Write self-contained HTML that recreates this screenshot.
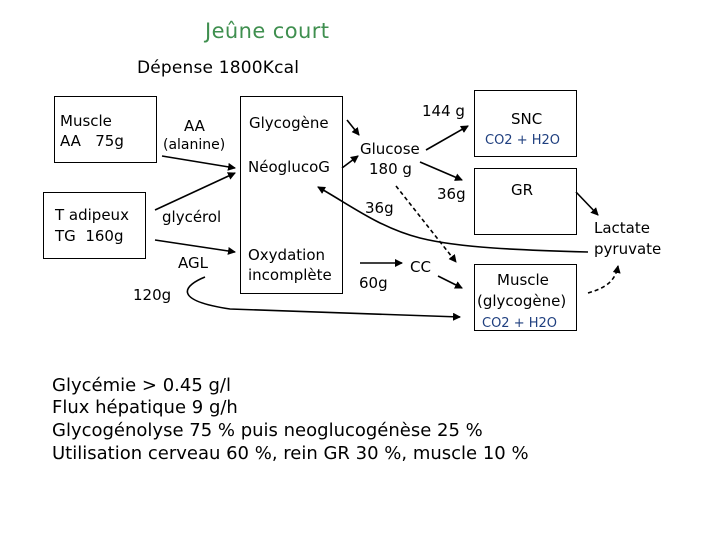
<!DOCTYPE html>
<html><head><meta charset="utf-8"><style>
html,body{margin:0;padding:0;background:#fff;width:720px;height:540px;overflow:hidden}
svg{display:block}
text{font-family:"DejaVu Sans","Liberation Sans",sans-serif;fill:#000}
</style></head><body>
<svg width="720" height="540" viewBox="0 0 720 540" xmlns="http://www.w3.org/2000/svg">
<defs>
<marker id="a" markerWidth="8" markerHeight="8" refX="7" refY="4" orient="auto" markerUnits="userSpaceOnUse"><path d="M0,0 L8,4 L0,8 z" fill="#000"/></marker>
</defs>
<text x="205" y="38" font-size="21" style="fill:#3f8f4f" textLength="124">Jeûne court</text>
<text x="137" y="73" font-size="17" textLength="162">Dépense 1800Kcal</text>

<g fill="none" stroke="#000" stroke-width="1">
<rect x="54.5" y="96.5" width="102" height="66"/>
<rect x="43.5" y="192.5" width="102" height="66"/>
<rect x="240.5" y="96.5" width="102" height="197"/>
<rect x="474.5" y="90.5" width="102" height="66"/>
<rect x="474.5" y="168.5" width="102" height="66"/>
<rect x="474.5" y="264.5" width="102" height="66"/>
</g>

<text x="60" y="126" font-size="15">Muscle</text>
<text x="60" y="146" font-size="15">AA&#160;&#160; 75g</text>
<text x="55" y="220" font-size="15">T adipeux</text>
<text x="55" y="241" font-size="15">TG&#160; 160g</text>
<text x="184" y="131" font-size="15">AA</text>
<text x="163" y="149" font-size="14">(alanine)</text>
<text x="162" y="222" font-size="15">glycérol</text>
<text x="178" y="268" font-size="15">AGL</text>
<text x="133" y="300" font-size="15">120g</text>
<text x="249" y="128" font-size="15">Glycogène</text>
<text x="248" y="172" font-size="15">NéoglucoG</text>
<text x="248" y="260" font-size="15">Oxydation</text>
<text x="248" y="280" font-size="15">incomplète</text>
<text x="360" y="154" font-size="15">Glucose</text>
<text x="369" y="174" font-size="15">180 g</text>
<text x="422" y="116" font-size="15">144 g</text>
<text x="437" y="199" font-size="15">36g</text>
<text x="365" y="213" font-size="15">36g</text>
<text x="359" y="288" font-size="15">60g</text>
<text x="410" y="272" font-size="15">CC</text>
<text x="511" y="124" font-size="15">SNC</text>
<text x="485" y="144" font-size="13" style="fill:#1f3f7f">CO2 + H2O</text>
<text x="511" y="195" font-size="15">GR</text>
<text x="497" y="285" font-size="15">Muscle</text>
<text x="477" y="306" font-size="15">(glycogène)</text>
<text x="482" y="327" font-size="13" style="fill:#1f3f7f">CO2 + H2O</text>
<text x="594" y="233" font-size="15">Lactate</text>
<text x="594" y="254" font-size="15">pyruvate</text>

<g fill="none" stroke="#000" stroke-width="1.6" marker-end="url(#a)">
<path d="M162,156 L235,168"/>
<path d="M155,210 L235,173"/>
<path d="M155,240 L235,252"/>
<path d="M205,277 C185,285 170,300 230,309 L460,317"/>
<path d="M347,120 L359,135"/>
<path d="M342,168 L358,156"/>
<path d="M426,150 L468,126"/>
<path d="M420,162 L462,180"/>
<path d="M588,252 C520,250 460,248 420,238 C380,228 350,205 318,187"/>
<path d="M360,263 L402,263"/>
<path d="M438,276 L462,288"/>
<path d="M576,192 L598,215"/>
</g>
<g fill="none" stroke="#000" stroke-width="1.6" stroke-dasharray="4,3" marker-end="url(#a)">
<path d="M396,186 L456,262"/>
<path d="M588,293 C605,288 615,282 618,266"/>
</g>

<text x="52" y="391" font-size="18">Glycémie &gt; 0.45 g/l</text>
<text x="52" y="413" font-size="18">Flux hépatique 9 g/h</text>
<text x="52" y="436" font-size="18">Glycogénolyse 75 % puis neoglucogénèse 25 %</text>
<text x="52" y="459" font-size="18">Utilisation cerveau 60 %, rein GR 30 %, muscle 10 %</text>
</svg>
</body></html>
